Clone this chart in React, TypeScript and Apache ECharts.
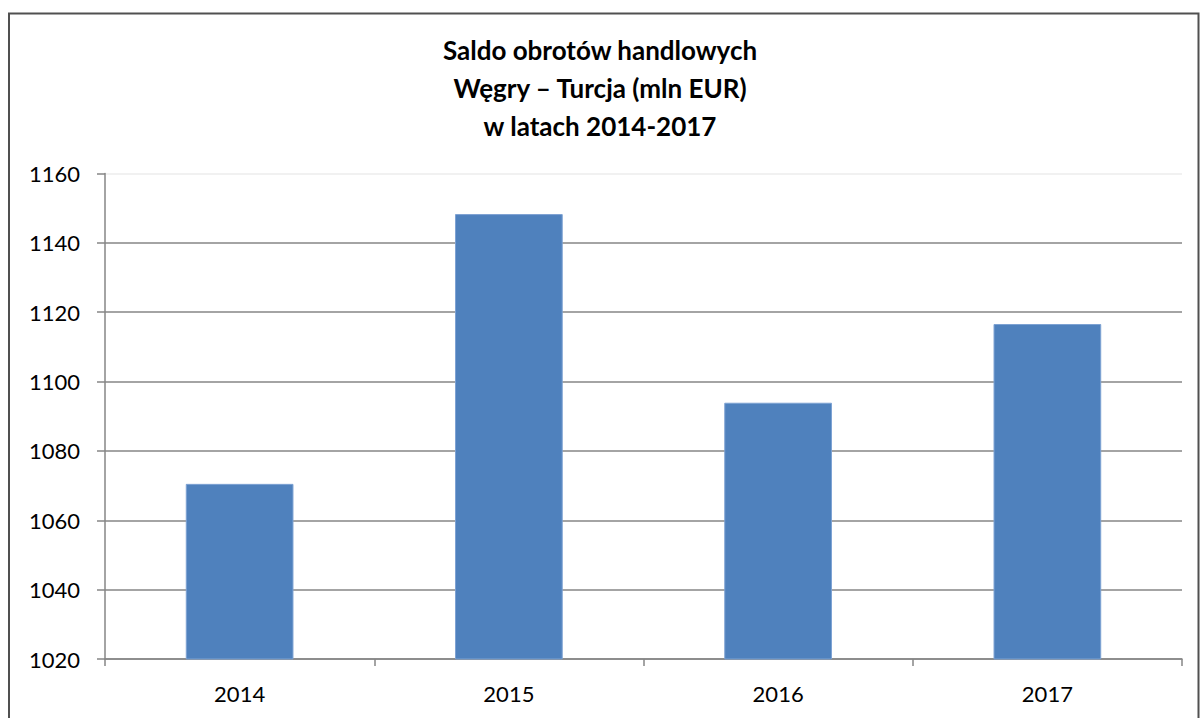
import React, { useEffect, useRef } from "react";
import * as echarts from "echarts";

const titleLines = ["Saldo obrotów handlowych", "Węgry – Turcja (mln EUR)", "w latach 2014-2017"];
const years = ["2014", "2015", "2016", "2017"];
const saldo = [1070.5, 1148.3, 1093.9, 1116.6];
const yMin = 1020;
const yMax = 1160;
const yStep = 20;

export default function App() {
  const ref = useRef<HTMLDivElement>(null);
  useEffect(() => {
    if (!ref.current) return;
    const chart = echarts.init(ref.current, null, { renderer: "svg" });
    const gray = "#868686";
    const splitColors = [gray, gray, gray, gray, gray, gray, gray, "#ececec"];
    chart.setOption({
      animation: false,
      backgroundColor: "#ffffff",
      textStyle: { fontFamily: "Lato" },
      title: {
        text: titleLines.join("\n"),
        left: "center",
        top: 26,
        padding: [5, 5, 5, 19],
        textStyle: {
          fontFamily: "Lato",
          fontWeight: "bold",
          fontSize: 26,
          lineHeight: 38,
          color: "#000",
        },
      },
      graphic: [
        {
          type: "rect",
          shape: { x: 9, y: 13.5, width: 1189.5, height: 720 },
          style: { fill: "none", stroke: "#505050", lineWidth: 2 },
          silent: true,
        },
      ],
      grid: { left: 105, right: 18, top: 173.5, bottom: 59 },
      xAxis: {
        type: "category",
        data: years,
        axisLine: { show: true, lineStyle: { color: gray, width: 1.5 } },
        axisTick: { show: true, length: 7, lineStyle: { color: gray, width: 1.5 } },
        axisLabel: { color: "#000", fontSize: 22, fontFamily: "Lato", margin: 23 },
        splitLine: { show: false },
      },
      yAxis: {
        type: "value",
        min: yMin,
        max: yMax,
        interval: yStep,
        axisLine: { show: true, lineStyle: { color: gray, width: 1.5 } },
        axisTick: { show: true, length: 8, lineStyle: { color: gray, width: 1.5 } },
        axisLabel: {
          color: "#000",
          fontSize: 22,
          fontFamily: "Lato",
          margin: 25,
          formatter: (v: number) => String(v),
        },
        splitLine: { show: true, lineStyle: { color: splitColors, width: 1.5 } },
      },
      series: [
        {
          type: "bar",
          data: saldo,
          barWidth: "40%",
          itemStyle: { color: "#4F81BD", borderColor: "#7DA2D3", borderWidth: 1 },
        },
      ],
    });
    return () => chart.dispose();
  }, []);
  return (
    <div
      ref={ref}
      style={{ position: "fixed", left: 0, top: 0, width: 1200, height: 718 }}
    />
  );
}
